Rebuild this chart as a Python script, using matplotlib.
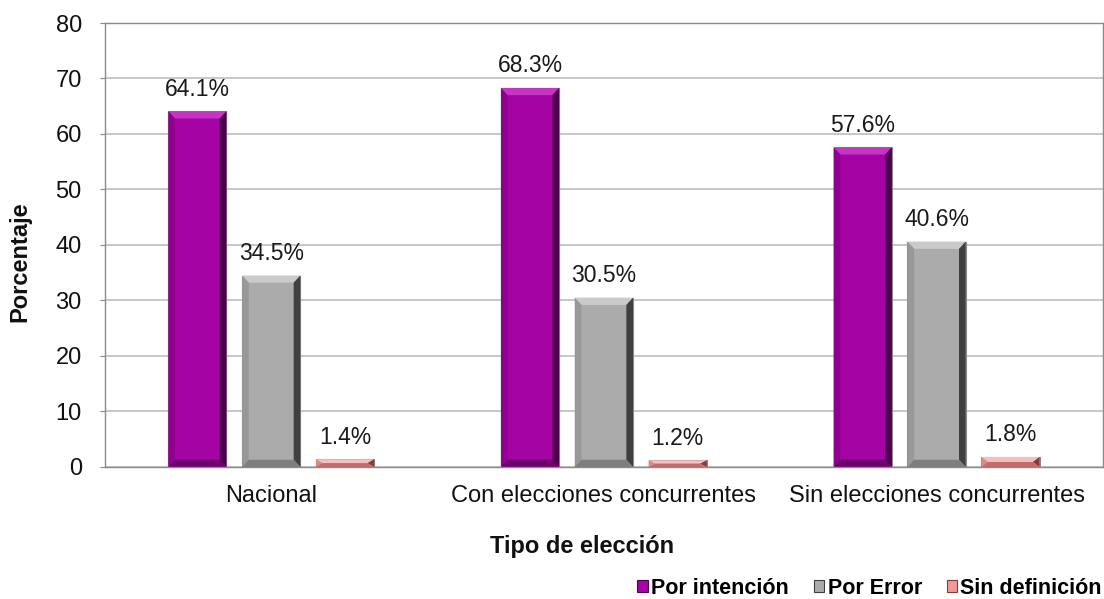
import matplotlib
matplotlib.use("Agg")
import matplotlib.pyplot as plt
from matplotlib.patches import Patch
import numpy as np

categories = ["Nacional", "Con elecciones concurrentes", "Sin elecciones concurrentes"]
series_names = ["Por intención", "Por Error", "Sin definición"]
por_intencion = [64.1, 68.3, 57.6]
por_error = [34.5, 30.5, 40.6]
sin_definicion = [1.4, 1.2, 1.8]
yticks = [0, 10, 20, 30, 40, 50, 60, 70, 80]

# face, top bevel, right bevel, left bevel, bottom bevel
palettes = [
    ["#A304A3", "#C534C5", "#4E004E", "#900090", "#6E006E"],
    ["#ABABAB", "#CACACA", "#404040", "#989898", "#7E7E7E"],
    ["#F29898", "#F8BEBE", "#7E3E3E", "#E08888", "#C46C6C"],
]

plt.rcParams['font.family'] = ['Liberation Sans', 'DejaVu Sans']

fig = plt.figure(figsize=(11.04, 5.99), dpi=100)
ax = fig.add_axes([0.095, 0.2204, 0.904, 0.7412])

x = np.arange(len(categories))
w = 0.175
step = 0.222
bx = 0.02
series = [por_intencion, por_error, sin_definicion]
for i, (vals, pal, name) in enumerate(zip(series, palettes, series_names)):
    pos = x + (i - 1) * step
    ax.bar(pos, vals, width=w, color=pal[0], edgecolor="#8A8A8A", linewidth=0.8,
           label=name, zorder=3)
    for xp, v in zip(pos, vals):
        x0, x1 = xp - w / 2, xp + w / 2
        by = min(1.3, v / 2)
        ax.fill([x0, x1, x1 - bx, x0 + bx], [v, v, v - by, v - by], color=pal[1], zorder=4, lw=0)
        ax.fill([x1, x1, x1 - bx, x1 - bx], [v, 0, by, v - by], color=pal[2], zorder=4, lw=0)
        ax.fill([x0, x0, x0 + bx, x0 + bx], [v, 0, by, v - by], color=pal[3], zorder=4, lw=0)
        ax.fill([x0, x1, x1 - bx, x0 + bx], [0, 0, by, by], color=pal[4], zorder=4, lw=0)
        ax.text(xp, v + 1.9, f"{v:.1f}%", ha="center", va="bottom",
                fontsize=16.5, color="#1a1a1a", zorder=5)

ax.set_xlim(-0.5, 2.5)
ax.set_ylim(0, 80)
ax.set_yticks(yticks)
ax.set_xticks(x)
ax.set_xticklabels(categories, fontsize=17, color="#111111")
ax.tick_params(axis='y', labelsize=17, length=3.6, color="#8A8A8A", pad=13, labelcolor="#111111")
ax.tick_params(axis='x', length=0, pad=13)
ax.yaxis.grid(True, color="#BEBEBE", linewidth=1.2, zorder=0)
ax.set_axisbelow(True)
for s in ax.spines.values():
    s.set_color("#8A8A8A")
    s.set_linewidth(1.0)
    s.set_zorder(6)

fig.text(20 / 1104, 1 - 262 / 599, "Porcentaje", rotation=90, ha="center", va="center",
         fontsize=17, fontweight="bold", color="#111111")
fig.text(582 / 1104, 1 - 546 / 599, "Tipo de elección", ha="center", va="center",
         fontsize=17, fontweight="bold", color="#111111")

handles = [Patch(facecolor=p[0], edgecolor=p[2], linewidth=0.8) for p in palettes]
fig.legend(handles, series_names, loc="center right", bbox_to_anchor=(1102 / 1104, 1 - 588 / 599),
           ncol=3, frameon=False, prop={'weight': 'bold', 'size': 15.5},
           handlelength=0.5, handleheight=0.5, handletextpad=0.15, columnspacing=1.15,
           borderpad=0.0, borderaxespad=0.0)

fig.savefig("out.png", dpi=100)
